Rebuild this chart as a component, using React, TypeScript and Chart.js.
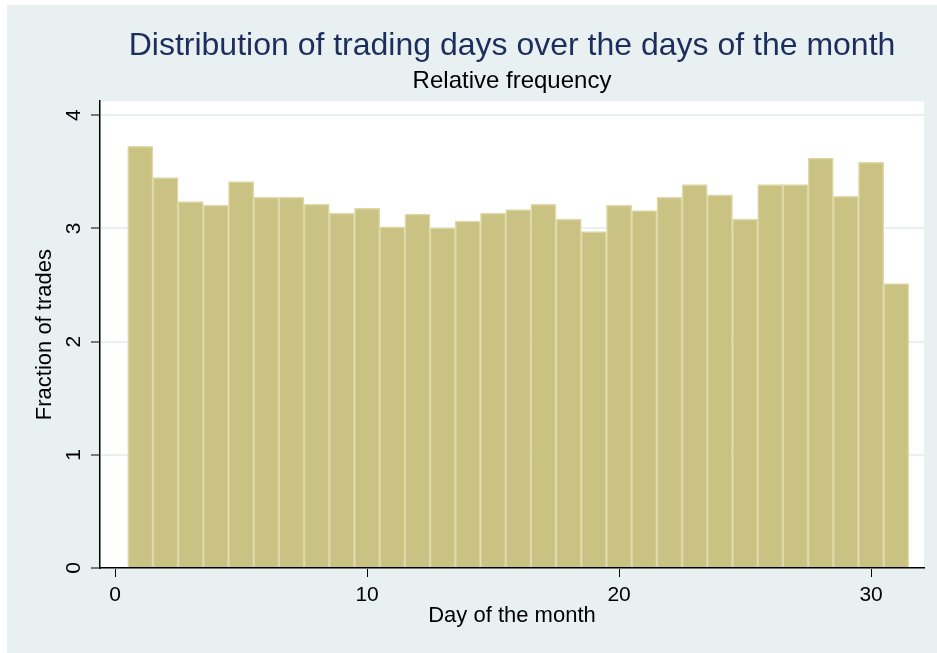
import React, { useEffect, useRef } from "react";
import { Chart, registerables } from "chart.js";

Chart.register(...registerables);

const days: number[] = [1, 2, 3, 4, 5, 6, 7, 8, 9, 10, 11, 12, 13, 14, 15, 16, 17, 18, 19, 20, 21, 22, 23, 24, 25, 26, 27, 28, 29, 30, 31];
const fractions: number[] = [
  3.725, 3.45, 3.237, 3.207, 3.414, 3.275, 3.278, 3.216, 3.136, 3.178,
  3.015, 3.127, 3.006, 3.065, 3.136, 3.166, 3.213, 3.083, 2.973, 3.204,
  3.157, 3.275, 3.388, 3.296, 3.083, 3.388, 3.388, 3.621, 3.284, 3.583,
  2.512,
];
const xTicks: number[] = [0, 10, 20, 30];
const yTicks: number[] = [0, 1, 2, 3, 4];

const titleText = "Distribution of trading days over the days of the month";
const subtitleText = "Relative frequency";
const xTitle = "Day of the month";
const yTitle = "Fraction of trades";

const BG = "#E8F0F2";

const bgPlugin = {
  id: "bgPlugin",
  beforeDraw(chart: any) {
    const { ctx, chartArea } = chart;
    ctx.save();
    ctx.fillStyle = BG;
    ctx.fillRect(0, 0, chart.width, chart.height);
    ctx.fillStyle = "#FFFFFF";
    ctx.fillRect(chartArea.left, chartArea.top, chartArea.right - chartArea.left, chartArea.bottom - chartArea.top);
    ctx.restore();
  },
};

export default function App() {
  const ref = useRef<HTMLCanvasElement | null>(null);
  useEffect(() => {
    if (!ref.current) return;
    const font = "'Liberation Sans', Arial, sans-serif";
    const chart = new Chart(ref.current, {
      type: "bar",
      data: {
        datasets: [
          {
            data: days.map((d, i) => ({ x: d, y: fractions[i] })),
            backgroundColor: "#CAC283",
            borderColor: "#DED9A6",
            borderWidth: 1.5,
            barPercentage: 1,
            categoryPercentage: 1,
          },
        ],
      },
      options: {
        animation: false,
        responsive: false,
        maintainAspectRatio: false,
        layout: { padding: { top: 0, right: 13, bottom: 0, left: 0 } },
        plugins: {
          legend: { display: false },
          tooltip: { enabled: false },
          title: {
            display: true,
            text: titleText,
            color: "#1C2E5C",
            fullSize: false,
            font: { family: font, size: 32, weight: "normal" },
            padding: { top: 22, bottom: 0 },
          },
          subtitle: {
            display: true,
            text: subtitleText,
            color: "#000000",
            fullSize: false,
            font: { family: font, size: 24, weight: "normal" },
            padding: { top: 2, bottom: 5 },
          },
        },
        scales: {
          x: {
            type: "linear",
            min: -0.6,
            max: 32.1,
            offset: false,
            afterBuildTicks: (scale: any) => {
              scale.ticks = xTicks.map((v) => ({ value: v }));
            },
            afterFit: (scale: any) => {
              scale.height = 85;
            },
            grid: {
              display: true,
              offset: false,
              drawOnChartArea: false,
              drawTicks: true,
              tickLength: 9,
              tickColor: "#000000",
              tickWidth: 1,
            },
            border: { display: true, color: "#000000", width: 1.5 },
            ticks: {
              color: "#000000",
              font: { family: font, size: 21 },
              padding: 6,
              maxRotation: 0,
              minRotation: 0,
              autoSkip: false,
            },
            title: {
              display: true,
              text: xTitle,
              color: "#000000",
              font: { family: font, size: 22 },
              padding: { top: 0, bottom: 24 },
            },
          },
          y: {
            type: "linear",
            min: 0,
            max: 4.124,
            afterBuildTicks: (scale: any) => {
              scale.ticks = yTicks.map((v) => ({ value: v }));
            },
            afterFit: (scale: any) => {
              scale.width = 93;
            },
            grid: {
              display: true,
              drawOnChartArea: true,
              drawTicks: true,
              tickLength: 9,
              color: "#E8F0F2",
              lineWidth: 2,
              tickColor: "#000000",
              tickWidth: 1,
            },
            border: { display: true, color: "#000000", width: 1.5 },
            ticks: {
              color: "#000000",
              font: { family: font, size: 21 },
              padding: 11,
              minRotation: 90,
              maxRotation: 90,
              crossAlign: "center",
              autoSkip: false,
            },
            title: {
              display: true,
              text: yTitle,
              color: "#000000",
              font: { family: font, size: 22 },
              padding: { top: 25, bottom: 0 },
            },
          },
        },
      },
      plugins: [bgPlugin],
    } as any);
    return () => chart.destroy();
  }, []);

  return (
    <div style={{ position: "fixed", left: 0, top: 0, width: 937, height: 653, background: "#FFFFFF" }}>
      <canvas
        ref={ref}
        width={930}
        height={648}
        style={{ position: "absolute", left: 7, top: 5, width: 930, height: 648 }}
      />
    </div>
  );
}
